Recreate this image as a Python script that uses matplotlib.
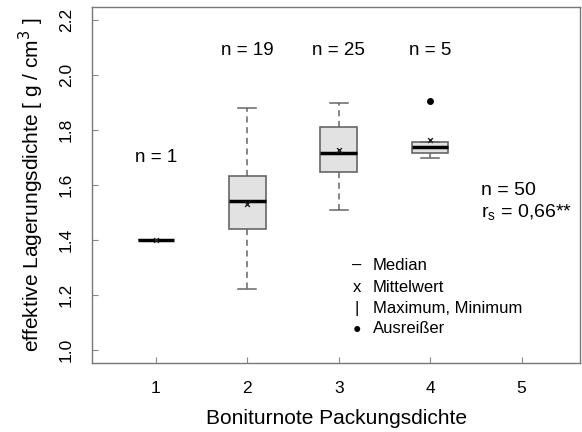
import matplotlib
matplotlib.use("Agg")
import matplotlib.pyplot as plt

plt.rcParams['font.family'] = ['Liberation Sans', 'DejaVu Sans']

# Data
groups = [1, 2, 3, 4]
n_labels = ["n = 1", "n = 19", "n = 25", "n = 5"]
medians = [1.40, 1.54, 1.718, 1.74]
q1 = [1.40, 1.44, 1.648, 1.718]
q3 = [1.40, 1.634, 1.81, 1.758]
whislo = [1.40, 1.22, 1.51, 1.70]
whishi = [1.40, 1.88, 1.90, 1.758]
means = [1.40, 1.532, 1.728, 1.765]
outliers = [[], [], [], [1.907]]
x_ticks = [1, 2, 3, 4, 5]
y_ticks = [1.0, 1.2, 1.4, 1.6, 1.8, 2.0, 2.2]

fig = plt.figure(figsize=(5.82, 4.32), dpi=100)
ax = fig.add_axes([92/582, 1-363/432, (580-92)/582, (363-7)/432])

stats = []
for i in range(len(groups)):
    stats.append(dict(med=medians[i], q1=q1[i], q3=q3[i], whislo=whislo[i],
                      whishi=whishi[i], fliers=outliers[i], mean=means[i]))

edge = '#666666'
ax.bxp(stats, positions=groups, widths=0.4, patch_artist=True,
       showmeans=False, showcaps=True,
       boxprops=dict(facecolor='#e2e2e2', edgecolor=edge, linewidth=1.2),
       medianprops=dict(color='black', linewidth=2.5),
       whiskerprops=dict(color=edge, linestyle=(0, (4, 3)), linewidth=1.1),
       capprops=dict(color=edge, linewidth=1.1),
       flierprops=dict(marker='o', markerfacecolor='black', markeredgecolor='black', markersize=4),
       capwidths=0.2)
ax.scatter(groups, means, marker='x', color='#222222', s=12, linewidths=1.0, zorder=5)

ax.set_xlim(0.3, 5.64)
ax.set_ylim(0.952, 2.248)
ax.set_xticks(x_ticks)
ax.set_xticklabels([str(v) for v in x_ticks], fontsize=12.5)
ax.set_yticks(y_ticks)
ax.set_yticklabels([f"{v:.1f}" for v in y_ticks], fontsize=12.5, rotation=90, va='center')
ax.tick_params(direction='in', length=4, color='#888888')
ax.tick_params(axis='x', pad=13)
ax.tick_params(axis='y', pad=13)
for sp in ax.spines.values():
    sp.set_color('#777777')
    sp.set_linewidth(1.0)

ax.set_xlabel("Boniturnote Packungsdichte", fontsize=15, labelpad=9)
ax.set_ylabel("effektive Lagerungsdichte [ g / cm$^3$ ]", fontsize=15, labelpad=9)

n_y = [1.70, 2.09, 2.09, 2.09]
for g, lab, yy in zip(groups, n_labels, n_y):
    ax.text(g, yy, lab, ha='center', va='center', fontsize=13.5)

ax.text(4.56, 1.58, "n = 50", ha='left', va='center', fontsize=14)
ax.text(4.56, 1.50, "r$_\\mathregular{s}$ = 0,66**", ha='left', va='center', fontsize=14)

leg_syms = ["–", "x", "|", "●"]
leg_sizes = [12, 12, 12, 10]
leg_text = ["Median", "Mittelwert", "Maximum, Minimum", "Ausreißer"]
leg_y = [1.306, 1.228, 1.152, 1.076]
for s, fs, t, yy in zip(leg_syms, leg_sizes, leg_text, leg_y):
    ax.text(3.2, yy, s, ha='center', va='center', fontsize=fs)
    ax.text(3.37, yy, t, ha='left', va='center', fontsize=12)

fig.savefig("out.png", dpi=100)
